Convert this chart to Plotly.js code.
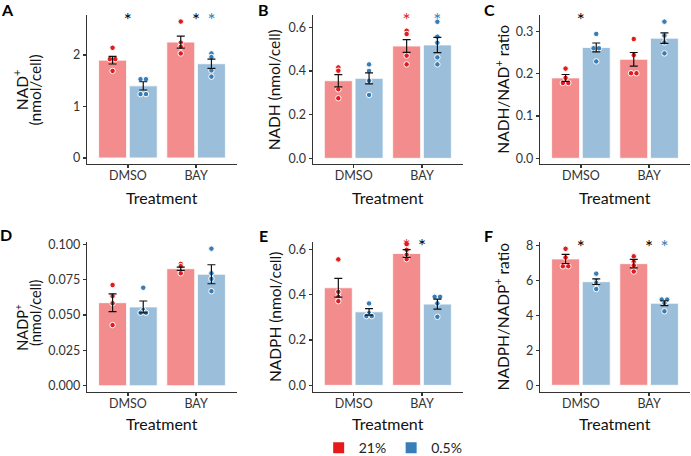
<!DOCTYPE html>
<html><head><meta charset="utf-8">
<script src="https://cdn.plot.ly/plotly-3.0.1.min.js"></script>
<style>html,body{margin:0;padding:0;background:#fff}#chart{width:691px;height:456px}</style>
</head><body><div id="chart"></div>
<script>
// ---------- data ----------
const categories = ['DMSO', 'BAY'];
const oxygen = ['21%', '0.5%'];
const panelLetters = ['A', 'B', 'C', 'D', 'E', 'F'];

// A: NAD+
const nadMean21 = [1.90, 2.25];
const nadSE21 = [0.075, 0.115];
const nadMean05 = [1.40, 1.83];
const nadSE05 = [0.08, 0.09];
const nadPts21 = [[2.14, 1.92, 1.92, 1.69], [2.65, 2.24, 2.16, 2.03]];
const nadPts05 = [[1.53, 1.53, 1.24, 1.24], [2.03, 1.96, 1.70, 1.58]];
const nadStarCat = ['DMSO', 'BAY', 'BAY'];
const nadStarGrp = ['both', 'both', '0.5%'];
const nadStarY = 2.74;

// B: NADH
const nadhMean21 = [0.355, 0.514];
const nadhSE21 = [0.028, 0.029];
const nadhMean05 = [0.366, 0.519];
const nadhSE05 = [0.025, 0.035];
const nadhPts21 = [[0.416, 0.401, 0.316, 0.275], [0.584, 0.569, 0.470, 0.430]];
const nadhPts05 = [[0.430, 0.400, 0.355, 0.290], [0.625, 0.557, 0.529, 0.462, 0.430]];
const nadhStarCat = ['BAY', 'BAY'];
const nadhStarGrp = ['21%', '0.5%'];
const nadhStarY = 0.648;

// C: NADH/NAD+ ratio
const ratioNadMean21 = [0.190, 0.234];
const ratioNadSE21 = [0.008, 0.016];
const ratioNadMean05 = [0.262, 0.284];
const ratioNadSE05 = [0.0105, 0.0125];
const ratioNadPts21 = [[0.212, 0.190, 0.178, 0.178], [0.282, 0.244, 0.201, 0.201]];
const ratioNadPts05 = [[0.294, 0.260, 0.260, 0.229], [0.323, 0.290, 0.274, 0.248]];
const ratioNadStarCat = ['DMSO'];
const ratioNadStarGrp = ['both'];
const ratioNadStarY = 0.335;

// D: NADP+
const nadpMean21 = [0.0587, 0.0827];
const nadpSE21 = [0.0063, 0.0012];
const nadpMean05 = [0.0557, 0.0788];
const nadpSE05 = [0.0042, 0.0067];
const nadpPts21 = [[0.0712, 0.0634, 0.0583, 0.0429], [0.0861, 0.0845, 0.0808, 0.0795]];
const nadpPts05 = [[0.0693, 0.0535, 0.0516, 0.0516], [0.0969, 0.0795, 0.0755, 0.0668]];
const nadpStarCat = [];
const nadpStarGrp = [];
const nadpStarY = null;

// E: NADPH
const nadphMean21 = [0.430, 0.581];
const nadphSE21 = [0.041, 0.017];
const nadphMean05 = [0.324, 0.358];
const nadphSE05 = [0.0145, 0.022];
const nadphPts21 = [[0.555, 0.412, 0.390, 0.371], [0.622, 0.597, 0.575, 0.556]];
const nadphPts05 = [[0.361, 0.318, 0.305, 0.305], [0.390, 0.390, 0.361, 0.302]];
const nadphStarCat = ['BAY', 'BAY'];
const nadphStarGrp = ['21%', 'both'];
const nadphStarY = 0.628;

// F: NADPH/NADP+ ratio
const ratioNadpMean21 = [7.22, 6.95];
const ratioNadpSE21 = [0.26, 0.24];
const ratioNadpMean05 = [5.92, 4.69];
const ratioNadpSE05 = [0.16, 0.14];
const ratioNadpPts21 = [[7.80, 7.30, 6.80, 6.80], [7.37, 7.05, 6.85, 6.50]];
const ratioNadpPts05 = [[6.38, 5.95, 5.85, 5.50], [4.90, 4.90, 4.70, 4.23]];
const ratioNadpStarCat = ['DMSO', 'BAY', 'BAY'];
const ratioNadpStarGrp = ['both', 'both', '0.5%'];
const ratioNadpStarY = 8.06;

// ---------- styling ----------
const FONT = 'Lato, "Open Sans", sans-serif';
const RED = '#E41A1C', BLUE = '#377EB8';
const RED_FILL = '#F28C8D', BLUE_FILL = '#9BBEDB';
const AXIS_COL = '#333333', TICK_COL = '#333333';
const W = 691, H = 456;
const STAR_SHIFT_PX = 5.5;

const panels = [
  {m21: nadMean21, s21: nadSE21, m05: nadMean05, s05: nadSE05, p21: nadPts21, p05: nadPts05, sc: nadStarCat, sg: nadStarGrp, sy: nadStarY,
   range: [-0.118, 2.777], dtick: 1, fmt: 'd', px: [87, 237], py: [15, 164]},
  {m21: nadhMean21, s21: nadhSE21, m05: nadhMean05, s05: nadhSE05, p21: nadhPts21, p05: nadhPts05, sc: nadhStarCat, sg: nadhStarGrp, sy: nadhStarY,
   range: [-0.026, 0.656], dtick: 0.2, fmt: '.1f', px: [312.7, 463], py: [15, 164]},
  {m21: ratioNadMean21, s21: ratioNadSE21, m05: ratioNadMean05, s05: ratioNadSE05, p21: ratioNadPts21, p05: ratioNadPts05, sc: ratioNadStarCat, sg: ratioNadStarGrp, sy: ratioNadStarY,
   range: [-0.0135, 0.3387], dtick: 0.1, fmt: '.1f', px: [540, 690], py: [15, 164]},
  {m21: nadpMean21, s21: nadpSE21, m05: nadpMean05, s05: nadpSE05, p21: nadpPts21, p05: nadpPts05, sc: nadpStarCat, sg: nadpStarGrp, sy: nadpStarY,
   range: [-0.0042, 0.1018], dtick: 0.025, fmt: '.3f', px: [87, 237], py: [241.7, 391.7]},
  {m21: nadphMean21, s21: nadphSE21, m05: nadphMean05, s05: nadphSE05, p21: nadphPts21, p05: nadphPts05, sc: nadphStarCat, sg: nadphStarGrp, sy: nadphStarY,
   range: [-0.028, 0.633], dtick: 0.2, fmt: '.1f', px: [312.7, 463], py: [241.7, 391.7]},
  {m21: ratioNadpMean21, s21: ratioNadpSE21, m05: ratioNadpMean05, s05: ratioNadpSE05, p21: ratioNadpPts21, p05: ratioNadpPts05, sc: ratioNadpStarCat, sg: ratioNadpStarGrp, sy: ratioNadpStarY,
   range: [-0.366, 8.205], dtick: 2, fmt: 'd', px: [540, 690], py: [241.7, 391.7]}
];

const GROUP_OFF = 0.225;   // dodge offset of each bar centre
const SWARM_DX = 0.08;     // horizontal spread for tied points

const data = [];
const layout = {
  width: W, height: H,
  margin: {l: 0, r: 0, t: 0, b: 0, autoexpand: false},
  paper_bgcolor: '#fff', plot_bgcolor: 'rgba(0,0,0,0)',
  font: {family: FONT, color: '#000'},
  barmode: 'group', bargap: 0.1, bargroupgap: 0.09,
  showlegend: true,
  legend: {orientation: 'h', x: 0.569, xanchor: 'center', y: -0.018, yanchor: 'bottom',
           font: {family: FONT, size: 14, color: '#222'}, bgcolor: 'rgba(0,0,0,0)', itemclick: false},
  annotations: []
};

function swarmX(base, vals) {
  const xs = [];
  vals.forEach((v, i) => {
    const ties = vals.map((w, j) => j).filter(j => vals[j] === v);
    const k = ties.indexOf(i);
    xs.push(base + (k - (ties.length - 1) / 2) * SWARM_DX);
  });
  return xs;
}

panels.forEach((p, i) => {
  const n = i === 0 ? '' : String(i + 1);
  const xa = 'x' + n, ya = 'y' + n;
  const pxPerUnit = (p.py[1] - p.py[0]) / (p.range[1] - p.range[0]);
  const groups = [
    {name: oxygen[0], m: p.m21, s: p.s21, pts: p.p21, fill: RED_FILL, col: RED, off: -GROUP_OFF},
    {name: oxygen[1], m: p.m05, s: p.s05, pts: p.p05, fill: BLUE_FILL, col: BLUE, off: GROUP_OFF}
  ];
  groups.forEach(g => {
    data.push({type: 'bar', x: categories.map((c, k) => k), y: g.m, xaxis: xa, yaxis: ya,
      marker: {color: g.fill, line: {color: 'rgba(255,255,255,0.8)', width: 1}},
      showlegend: false, hoverinfo: 'skip'});
  });
  groups.forEach(g => {
    const xs = [], ys = [];
    g.pts.forEach((vals, k) => {
      swarmX(k + g.off, vals).forEach((x, j) => { xs.push(x); ys.push(vals[j]); });
    });
    data.push({type: 'scatter', mode: 'markers', x: xs, y: ys, xaxis: xa, yaxis: ya,
      marker: {color: g.col, size: 5.5, line: {color: '#fff', width: 1}},
      showlegend: false, hoverinfo: 'skip', cliponaxis: false});
  });
  groups.forEach(g => {
    data.push({type: 'scatter', mode: 'markers', x: categories.map((c, k) => k + g.off), y: g.m,
      xaxis: xa, yaxis: ya,
      marker: {size: 1, color: 'rgba(0,0,0,0)'},
      error_y: {type: 'data', array: g.s, visible: true, color: '#111', thickness: 1.2, width: 4},
      showlegend: false, hoverinfo: 'skip'});
  });
  // significance stars, one trace per colour
  const starGroups = [['both', '#000000'], [oxygen[0], RED], [oxygen[1], BLUE]];
  starGroups.forEach(([grp, col]) => {
    const idx = p.sg.map((g, k) => k).filter(k => p.sg[k] === grp);
    if (!idx.length) return;
    const off = grp === 'both' ? 0 : grp === oxygen[0] ? -GROUP_OFF : GROUP_OFF;
    data.push({type: 'scatter', mode: 'text',
      x: idx.map(k => categories.indexOf(p.sc[k]) + off),
      y: idx.map(() => p.sy - STAR_SHIFT_PX / pxPerUnit),
      text: idx.map(() => '*'),
      textposition: 'middle center', textfont: {family: FONT, size: 19, color: col},
      xaxis: xa, yaxis: ya, showlegend: false, hoverinfo: 'skip', cliponaxis: false});
  });
  const axCommon = {showline: true, linecolor: AXIS_COL, linewidth: 1.2, ticks: 'outside', ticklen: 3,
    tickwidth: 1.2, tickcolor: AXIS_COL, tickfont: {family: FONT, size: 12.5, color: TICK_COL},
    showgrid: false, zeroline: false, fixedrange: true, automargin: false};
  layout['xaxis' + n] = Object.assign({}, axCommon, {
    domain: [p.px[0] / W, p.px[1] / W], range: [-0.6, 1.6], anchor: ya,
    tickmode: 'array', tickvals: categories.map((c, k) => k), ticktext: categories,
    ticklabelstandoff: -3});
  layout['yaxis' + n] = Object.assign({}, axCommon, {
    domain: [1 - p.py[1] / H, 1 - p.py[0] / H], range: p.range, anchor: xa,
    tick0: 0, dtick: p.dtick, tickformat: p.fmt});
});

// legend keys
oxygen.forEach((o, k) => {
  data.push({type: 'scatter', mode: 'markers', x: [null], y: [null], name: o,
    marker: {symbol: 'square', size: 11, color: k === 0 ? RED : BLUE}, showlegend: true, hoverinfo: 'skip'});
});

// annotations: panel letters, axis titles
const letterPos = [[7, 9], [263, 9], [489, 9], [6, 234], [263, 235], [488, 235]];
panelLetters.forEach((L, i) => {
  layout.annotations.push({text: '<b>' + L + '</b>', x: letterPos[i][0] / W, y: 1 - letterPos[i][1] / H,
    xref: 'paper', yref: 'paper', showarrow: false, xanchor: 'center', yanchor: 'middle',
    font: {family: FONT, size: 16, color: '#000'}});
});
const xTitleY = [197, 197, 197, 423, 423, 423];
panels.forEach((p, i) => {
  layout.annotations.push({text: 'Treatment', x: (p.px[0] + p.px[1]) / 2 / W, y: 1 - xTitleY[i] / H,
    xref: 'paper', yref: 'paper', showarrow: false, xanchor: 'center', yanchor: 'middle',
    font: {family: FONT, size: 16, color: '#111'}});
});
const yTitles = [
  {t: 'NAD<sup>+</sup>', x: 20.7, y: 90.5, s: 15.5}, {t: '(nmol/cell)', x: 35, y: 90.5, s: 15.5},
  {t: 'NADH (nmol/cell)', x: 274.3, y: 90, s: 15.5}, {t: 'NADH/NAD<sup>+</sup> ratio', x: 501.7, y: 89, s: 15.5},
  {t: 'NADP<sup>+</sup>', x: 20.7, y: 327, s: 14.5}, {t: '(nmol/cell)', x: 35, y: 313, s: 14.5},
  {t: 'NADPH (nmol/cell)', x: 274.3, y: 316.7, s: 15.5}, {t: 'NADPH/NADP<sup>+</sup> ratio', x: 501.7, y: 316.7, s: 15.5}
];
yTitles.forEach(o => {
  layout.annotations.push({text: o.t, x: o.x / W, y: 1 - o.y / H, xref: 'paper', yref: 'paper',
    showarrow: false, textangle: -90, xanchor: 'center', yanchor: 'middle',
    font: {family: FONT, size: o.s, color: '#111'}});
});

Plotly.newPlot('chart', data, layout, {displayModeBar: false, staticPlot: true});
</script>
</body></html>
